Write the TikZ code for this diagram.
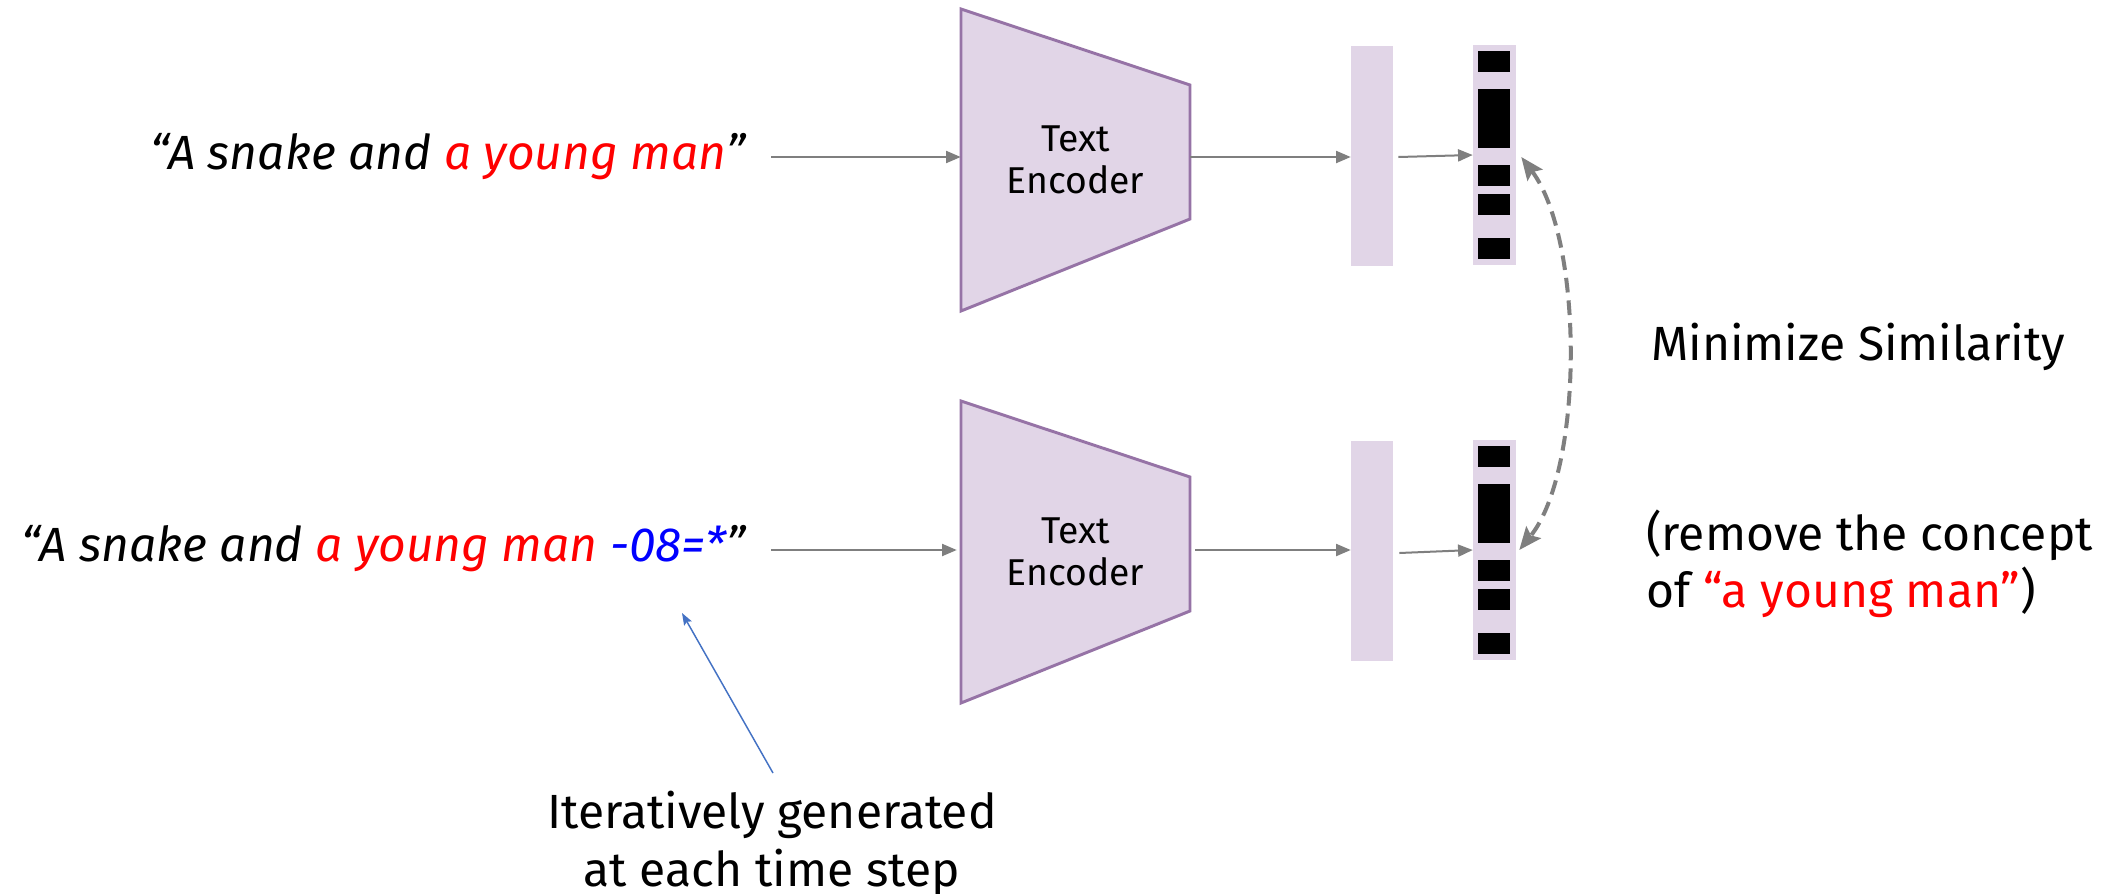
\documentclass[tikz,border=0pt]{standalone}
\usepackage{fontspec}
\setmainfont{Fira Sans}
\usetikzlibrary{arrows.meta,calc}
\definecolor{encfill}{HTML}{E1D5E7}
\definecolor{encdraw}{HTML}{9673A6}
\definecolor{linkgray}{HTML}{7F7F7F}
\definecolor{noteblue}{HTML}{4472C4}
\definecolor{pred}{HTML}{FF0000}
\definecolor{pblue}{HTML}{0000FF}
\begin{document}
\begin{tikzpicture}[x=0.75pt,y=-0.75pt,
  prompt/.style={font=\fontsize{36}{44}\selectfont\itshape, inner sep=0pt, anchor=east},
  enclabel/.style={font=\fontsize{28}{32}\selectfont, align=center,
    minimum width=171.75pt, minimum height=226.5pt, inner sep=0pt},
  encshape/.style={fill=encfill, draw=encdraw, line width=2.2pt, line join=miter},
  embcol/.style={fill=encfill, minimum width=31.5pt, minimum height=165pt, inner sep=0pt},
  veccol/.style={fill=encfill, minimum width=32.25pt, minimum height=165pt, inner sep=0pt},
  note/.style={font=\fontsize{36}{43}\selectfont, inner sep=0pt},
  garrow/.style={draw=linkgray, line width=1.5pt, -{Triangle[length=11pt,width=9pt]}},
  simarrow/.style={draw=linkgray, line width=3pt, dash pattern=on 11pt off 6pt,
    {Stealth[length=17pt,width=14pt,inset=3pt]}-{Stealth[length=17pt,width=14pt,inset=3pt]}},
  barrow/.style={draw=noteblue, line width=1.1pt, -{Stealth[length=9pt,width=6.5pt,inset=1.5pt]}}
]
\useasboundingbox (0,0) rectangle (2120,893);
\fill[white] (0,0) rectangle (2120,893);

% encoders
\fill[encshape] (961,9) -- (1190,85) -- (1190,219) -- (961,311) -- cycle;
\fill[encshape] (961,401) -- (1190,477) -- (1190,611) -- (961,703) -- cycle;
\node[enclabel] (enc1) at (1075.5,160) {Text\\Encoder};
\node[enclabel] (enc2) at (1075.5,552) {Text\\Encoder};

% embeddings and token vectors
\node[embcol] (r1) at (1372,156) {};
\node[embcol] (r2) at (1372,551) {};
\node[veccol] (v1) at (1494.5,155) {};
\node[veccol] (v2) at (1494.5,550) {};
\foreach \v in {v1,v2}{
  \foreach \a/\b in {6/27,44/103,120/141,149/170,193/214}
    \fill[black] ($(\v.north west)+(5,\a)$) rectangle ($(\v.north west)+(37,\b)$);
}

% prompts
\node[prompt] (p1) at (746,157) {“A snake and \textcolor{pred}{a young man}”};
\node[prompt] (p2) at (746,549) {“A snake and \textcolor{pred}{a young man} \textcolor{pblue}{-08=*}”};

% flow arrows
\draw[garrow] ($(p1.east)+(25,0)$) -- (p1.east -| enc1.west);
\draw[garrow] ($(p2.east)+(25,1)$) -- ($(p2.east -| enc2.west)+(-4,1)$);
\draw[garrow] (enc1.east |- p1.east) -- (r1.west |- p1.east);
\draw[garrow] ($(enc2.east |- p2.east)+(5,1)$) -- ($(r2.west |- p2.east)+(0,1)$);
\draw[garrow] ($(r1.east)+(5,1)$) -- (v1.west);
\draw[garrow] ($(r2.east)+(6,2)$) -- (v2.west);

% similarity link
\draw[simarrow] ($(v1.east)+(5,2)$) .. controls (1584,240) and (1584,470) .. ($(v2.east)+(3,0)$);

% notes
\node[note, anchor=base west] (ms) at (1651,360) {Minimize Similarity};
\node[note, align=left, anchor=west] (rm) at (1646,564)
  {(remove the concept\\of \textcolor{pred}{“a young man”})};
\node[note, align=center] (it) at (772,844) {Iteratively generated\\at each time step};
\coordinate (itail) at (773,773);
\coordinate (itip) at (682,613);
\draw[barrow] (itail) -- (itip);
\end{tikzpicture}
\end{document}
